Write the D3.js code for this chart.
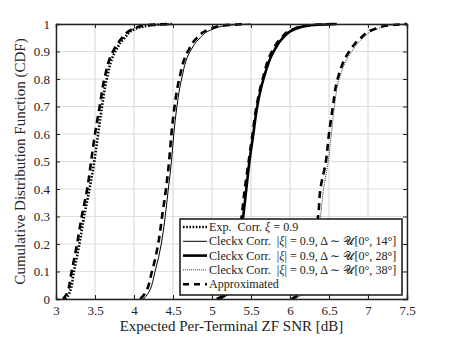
<!DOCTYPE html>
<html><head><meta charset="utf-8">
<script src="https://cdn.jsdelivr.net/npm/d3@7"></script>
<style>body{margin:0;background:#fff}svg{display:block}</style>
</head><body><svg id="c" width="449" height="337" font-family="Liberation Serif"></svg>
<script>
const cdfLevels = [0, 0.02, 0.1, 0.2, 0.3, 0.4, 0.5, 0.6, 0.7, 0.8, 0.9, 0.95, 0.98, 0.995, 1];
const expCorr   = [3.12,3.17,3.23,3.30,3.36,3.43,3.49,3.54,3.59,3.65,3.76,3.88,4.00,4.20,4.50];
const expApprox = [3.09,3.14,3.20,3.27,3.33,3.40,3.45,3.50,3.56,3.62,3.73,3.85,3.97,4.15,4.45];
const cl14      = [4.12,4.18,4.27,4.35,4.40,4.44,4.48,4.51,4.55,4.61,4.72,4.85,5.00,5.20,5.50];
const cl14Approx= [4.08,4.14,4.23,4.31,4.36,4.41,4.45,4.48,4.52,4.58,4.69,4.81,4.96,5.15,5.45];
const cl28      = [5.08,5.20,5.29,5.35,5.40,5.44,5.48,5.53,5.58,5.66,5.79,5.91,6.05,6.25,6.60];
const cl28Approx= [5.06,5.18,5.27,5.33,5.38,5.42,5.47,5.52,5.57,5.65,5.77,5.89,6.03,6.22,6.55];
const cl38      = [6.05,6.17,6.26,6.33,6.39,6.43,6.49,6.53,6.57,6.63,6.79,6.94,7.10,7.30,7.50];
const cl38Approx= [6.02,6.13,6.22,6.29,6.36,6.39,6.46,6.50,6.55,6.61,6.76,6.91,7.07,7.27,7.50];
const xTicks = [3,3.5,4,4.5,5,5.5,6,6.5,7,7.5];
const yTicks = [0,0.1,0.2,0.3,0.4,0.5,0.6,0.7,0.8,0.9,1];
const legendLabels = ["Exp.  Corr.", "Cleckx Corr.", "Cleckx Corr.", "Cleckx Corr.", "Approximated"];
const legendAngles = [null, "14", "28", "38", null];

const FONT = "Liberation Serif";
const svg = d3.select("#c");
const L=56, R=407, T=24, B=299;
const x = d3.scaleLinear().domain([3,7.5]).range([L,R]);
const y = d3.scaleLinear().domain([0,1]).range([B,T]);

// grid
const g = svg.append("g");
g.selectAll(".gx").data(xTicks).join("line").attr("x1",d=>x(d)).attr("x2",d=>x(d)).attr("y1",T).attr("y2",B).attr("stroke","#dcdcdc").attr("stroke-width",1.2);
g.selectAll(".gy").data(yTicks).join("line").attr("x1",L).attr("x2",R).attr("y1",d=>y(d)).attr("y2",d=>y(d)).attr("stroke","#dcdcdc").attr("stroke-width",1.2);

const styles = {
  exp:{w:2.6,dash:"1.6,1.6"},
  c14:{w:1,dash:null},
  c28:{w:2.6,dash:null},
  c38:{w:0.8,dash:"1,1"},
  app:{w:2.6,dash:"7,5"}
};
const line = d3.line().x(d=>x(d[0])).y(d=>y(d[1])).curve(d3.curveMonotoneY);
function draw(arr, st){
  const pts = arr.map((v,i)=>[v,cdfLevels[i]]);
  const p = svg.append("path").datum(pts).attr("d",line).attr("fill","none").attr("stroke","#000").attr("stroke-width",st.w);
  if(st.dash) p.attr("stroke-dasharray",st.dash);
}
draw(expCorr,styles.exp); draw(expApprox,styles.app);
draw(cl14,styles.c14); draw(cl14Approx,styles.app);
draw(cl28,styles.c28); draw(cl28Approx,styles.app);
draw(cl38,styles.c38); draw(cl38Approx,styles.app);

// axes
const ax = svg.append("g").attr("transform",`translate(0,${B})`).call(d3.axisBottom(x).tickValues(xTicks).tickSize(-4).tickPadding(7).tickFormat(d3.format("")));
const ay = svg.append("g").attr("transform",`translate(${L},0)`).call(d3.axisLeft(y).tickValues(yTicks).tickSize(-4).tickPadding(6).tickFormat(d3.format("")));
const at = svg.append("g").attr("transform",`translate(0,${T})`).call(d3.axisTop(x).tickValues(xTicks).tickSize(-4).tickFormat(""));
const ar = svg.append("g").attr("transform",`translate(${R},0)`).call(d3.axisRight(y).tickValues(yTicks).tickSize(-4).tickFormat(""));
[ax,ay,at,ar].forEach(a=>{a.attr("font-family",FONT).attr("font-size",13);a.select(".domain").attr("stroke","#222").attr("stroke-width",1.4);a.selectAll(".tick line").attr("stroke","#222");a.selectAll("text").attr("fill","#222").attr("font-family",FONT).attr("font-size",13);});

svg.append("text").attr("x",(L+R)/2).attr("y",331).attr("text-anchor","middle").attr("font-family",FONT).attr("font-size",15).attr("fill","#222").text("Expected Per-Terminal ZF SNR [dB]");
svg.append("text").attr("transform",`translate(25,${(T+B)/2}) rotate(-90)`).attr("text-anchor","middle").attr("font-family",FONT).attr("font-size",15).attr("fill","#222").text("Cumulative Distribution Function (CDF)");

// legend
const lg = svg.append("g");
lg.append("rect").attr("x",180).attr("y",219).attr("width",222).attr("height",76).attr("fill","#fff").attr("stroke","#222").attr("stroke-width",1.6);
const legStyles=[styles.exp,styles.c14,styles.c28,styles.c38,styles.app];
legendLabels.forEach((lab,i)=>{
  const yy = 227+i*14.3;
  const l = lg.append("line").attr("x1",183).attr("x2",207).attr("y1",yy).attr("y2",yy).attr("stroke","#000").attr("stroke-width",legStyles[i].w);
  if(legStyles[i].dash) l.attr("stroke-dasharray", i===4?"6,5":legStyles[i].dash);
  const t = lg.append("text").attr("x",209).attr("y",yy+4).attr("font-family",FONT).attr("font-size",12.1).attr("fill","#222").style("white-space","pre");
  t.append("tspan").text(lab);
  if(i===0){
    t.append("tspan").text(" ");
    t.append("tspan").attr("font-style","italic").text("ξ");
    t.append("tspan").text(" = 0.9");
  } else if(legendAngles[i]){
    t.append("tspan").text("  |");
    t.append("tspan").attr("font-style","italic").text("ξ");
    t.append("tspan").text("| = 0.9, Δ ∼ ");
    t.append("tspan").text("𝒰");
    t.append("tspan").text(`[0°, ${legendAngles[i]}°]`);
  }
});
</script></body></html>
